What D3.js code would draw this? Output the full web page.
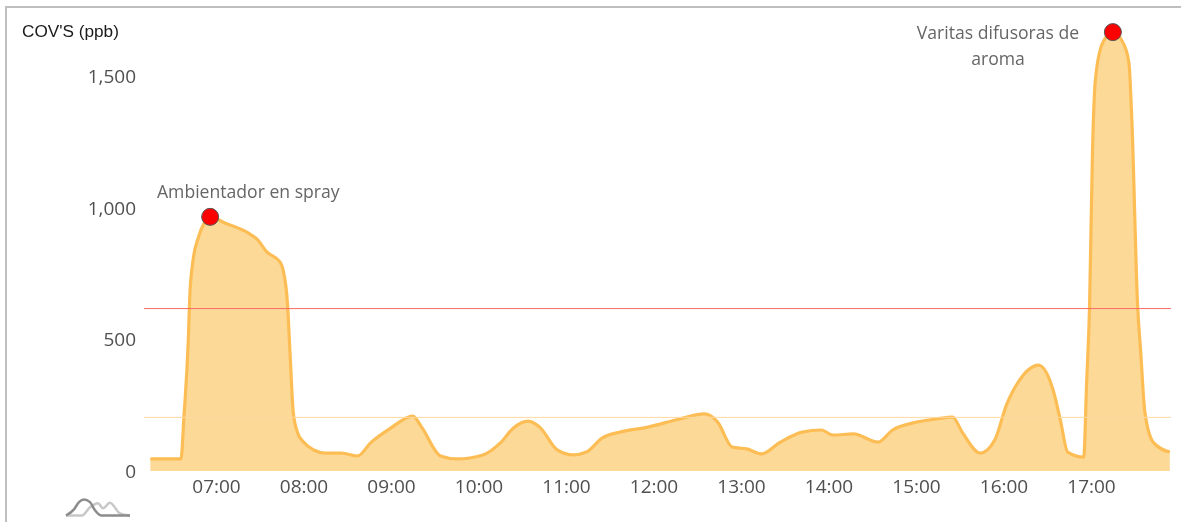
<!DOCTYPE html>
<html><head><meta charset="utf-8">
<script src="https://cdnjs.cloudflare.com/ajax/libs/d3/7.8.5/d3.min.js"></script>
<style>
html,body{margin:0;padding:0;background:#fff;overflow:hidden}
svg{display:block;filter:blur(0.45px)}
</style></head><body>
<svg id="c" width="1181" height="522"></svg>
<script>
// minutes since midnight
const minutes = [375,396,398,401,402,404,408,412,416,426,442,448,455,464,466,469,471,473,476,480,487,495,506,517,526,539,555,561,574,585,603,615,624,634,642,654,665,674,685,697,716,738,755,764,774,784,794,807,822,835,843,857,874,884,898,914,925,932,944,954,962,971,984,994,999,1004,1015,1017,1019,1021,1023,1028,1035,1042,1046,1048,1052,1054,1057,1063,1074];
const ppb = [46,46,205,498,662,791,890,944,967,944,906,883,833,795,765,639,422,221,145,110,80,68,68,57,107,160,209,167,57,46,61,107,164,190,167,80,61,72,126,148,167,198,217,186,91,84,65,110,148,156,137,141,110,156,183,198,205,145,68,118,251,346,403,308,194,72,53,335,624,1210,1488,1629,1670,1629,1553,1336,624,460,221,107,72];
const yTicks = [0,500,1000,1500];
const xTickHours = [7,8,9,10,11,12,13,14,15,16,17];
const redLimit = 618;
const orangeLimit = 204;
const peaks = [{m:416,v:967},{m:1035,v:1670}];
const notes = [
  {m:416,v:967,lines:["Ambientador en spray"]},
  {m:1035,v:1670,lines:["Varitas difusoras de","aroma"]}
];
const iconDarkX = [0,8,13,18,24,29,35,64];
const iconDarkY = [0,6,13,15.5,13,5,0,0];
const iconLightX = [0,16,24,32,37,44,54,64];
const iconLightY = [0,0,8,12,7,12.5,2,0];

const svg = d3.select("#c");
const x = d3.scaleLinear().domain([420,480]).range([216,303.5]);
const y = d3.scaleLinear().domain([0,500]).range([471,339.6]);

// frame
svg.append("line").attr("x1",5).attr("x2",1181).attr("y1",7).attr("y2",7).attr("stroke","#bfbfbf").attr("stroke-width",2);
svg.append("line").attr("x1",6).attr("x2",6).attr("y1",6).attr("y2",522).attr("stroke","#bfbfbf").attr("stroke-width",2);

const pts = minutes.map((m,i)=>({m,v:ppb[i]}));
const area = d3.area().x(d=>x(d.m)).y0(y(0)).y1(d=>y(d.v)).curve(d3.curveMonotoneX);
const line = d3.line().x(d=>x(d.m)).y(d=>y(d.v)).curve(d3.curveMonotoneX);
svg.append("path").datum(pts).attr("d",area).attr("fill","#fdd998");
svg.append("path").datum(pts).attr("d",line).attr("fill","none").attr("stroke","#fdbd55").attr("stroke-width",3.2).attr("stroke-linejoin","round");

// thresholds
svg.append("line").attr("x1",144).attr("x2",1171).attr("y1",y(redLimit)).attr("y2",y(redLimit)).attr("stroke","#fb6a63").attr("stroke-width",1);
svg.append("line").attr("x1",144).attr("x2",1171).attr("y1",y(orangeLimit)).attr("y2",y(orangeLimit)).attr("stroke","#fcd9a0").attr("stroke-width",1);

// axes
const tickFont = "'Open Sans', sans-serif";
const yAxis = svg.append("g").attr("transform","translate(136,0)").call(d3.axisLeft(y).tickValues(yTicks).tickFormat(d3.format(",")).tickSize(0).tickPadding(0));
yAxis.select(".domain").remove();
yAxis.selectAll("text").attr("font-family",tickFont).attr("font-size",19).attr("fill","#505050");
const xAxis = svg.append("g").attr("transform","translate(0,471)").call(d3.axisBottom(x).tickValues(xTickHours.map(h=>h*60)).tickFormat(m=>String(m/60).padStart(2,"0")+":00").tickSize(0).tickPadding(8.5));
xAxis.select(".domain").remove();
xAxis.selectAll("text").attr("font-family",tickFont).attr("font-size",19).attr("fill","#505050");

// title
svg.append("text").attr("x",22).attr("y",37).attr("font-family","'Liberation Sans',Arial,sans-serif").attr("font-size",17.2).attr("fill","#1a1a1a").text("COV'S (ppb)");

// annotations
const noteFont = "'Open Sans', sans-serif";
svg.append("text").attr("x",157).attr("y",198).attr("font-family",noteFont).attr("font-size",17.6).attr("fill","#666").text(notes[0].lines[0]);
notes[1].lines.forEach((t,i)=>{
  svg.append("text").attr("x",998).attr("y",39+i*26).attr("text-anchor","middle").attr("font-family",noteFont).attr("font-size",17.6).attr("fill","#666").text(t);
});

// peak markers
svg.selectAll("circle.peak").data(peaks).join("circle").attr("class","peak")
  .attr("cx",d=>x(d.m)).attr("cy",d=>y(d.v)).attr("r",8.5)
  .attr("fill","#fe0000").attr("stroke","#555").attr("stroke-width",1);

// small-multiple icon
const ix = d3.scaleLinear().domain([0,64]).range([66,130]);
const iy = d3.scaleLinear().domain([0,17]).range([515.5,498]);
const il = d3.line().curve(d3.curveMonotoneX);
svg.append("path").attr("d",il(iconLightX.map((v,i)=>[ix(v),iy(iconLightY[i])]))).attr("fill","none").attr("stroke","#c8c8c8").attr("stroke-width",2.5);
svg.append("path").attr("d",il(iconDarkX.map((v,i)=>[ix(v),iy(iconDarkY[i])]))).attr("fill","none").attr("stroke","#8c8c8c").attr("stroke-width",2.5);
</script>
</body></html>
